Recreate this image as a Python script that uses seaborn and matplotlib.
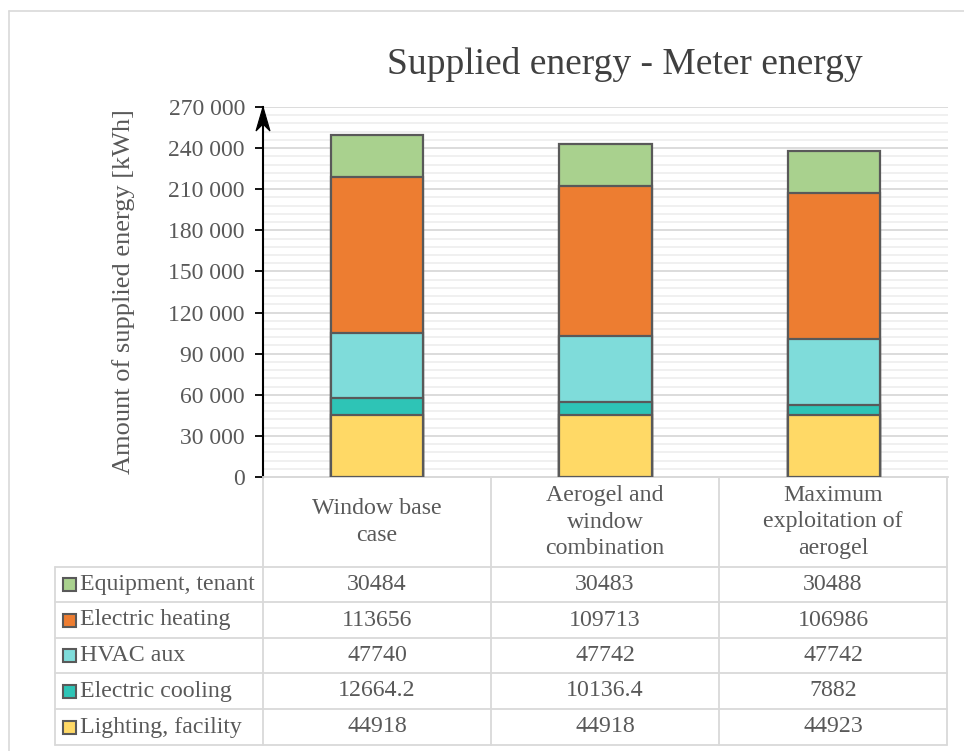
import matplotlib
matplotlib.use("Agg")
import matplotlib.pyplot as plt
import seaborn as sns
import numpy as np
from matplotlib.ticker import MultipleLocator, FuncFormatter
from matplotlib.patches import Polygon

# ---- data ----
categories = ["Window base case", "Aerogel and window combination", "Maximum exploitation of aerogel"]
header_labels = ["Window base\ncase", "Aerogel and\nwindow\ncombination", "Maximum\nexploitation of\naerogel"]
lighting = [44918, 44918, 44923]
cooling = [12664.2, 10136.4, 7882]
hvac = [47740, 47742, 47742]
heating = [113656, 109713, 106986]
equipment = [30484, 30483, 30488]
cooling_text = ["12664.2", "10136.4", "7882"]

series_names = ["Lighting, facility", "Electric cooling", "HVAC aux", "Electric heating", "Equipment, tenant"]
series_vals = [lighting, cooling, hvac, heating, equipment]
colors = ["#FFD966", "#2EC4B6", "#7FDCDA", "#ED7D31", "#A9D18E"]

sns.set_theme(style="white")
plt.rcParams["font.family"] = ["Liberation Serif", "DejaVu Serif"]

W, H = 964, 751
fig = plt.figure(figsize=(W / 100, H / 100), dpi=100)

# main plot axes (pixel geometry)
L, R, T, B = 263, 948, 107, 477
ax = fig.add_axes([L / W, 1 - B / H, (R - L) / W, (B - T) / H])

cum = np.cumsum(np.array(series_vals, dtype=float), axis=0)
edge = "#595959"
for i in range(len(series_names) - 1, -1, -1):
    sns.barplot(x=categories, y=cum[i], color=colors[i], width=0.405, saturation=1,
                edgecolor=edge, linewidth=1.6, ax=ax, order=categories, zorder=3)

ax.set_xlim(-0.5, 2.5)
ax.set_ylim(0, 270000)
ax.yaxis.set_major_locator(MultipleLocator(30000))
ax.yaxis.set_minor_locator(MultipleLocator(6000))
ax.yaxis.set_major_formatter(FuncFormatter(lambda v, p: f"{int(v):,}".replace(",", " ")))
ax.grid(axis="y", which="major", color="#d9d9d9", linewidth=1.3, zorder=0)
ax.grid(axis="y", which="minor", color="#efefef", linewidth=1.3, zorder=0)
ax.set_axisbelow(True)
ax.set_xticks([])
ax.set_xlabel("")
ax.tick_params(axis="y", which="major", direction="out", length=6, width=1.3, color="black",
               labelsize=17, labelcolor="#595959", pad=7, left=True)
ax.tick_params(axis="y", which="minor", length=0)
for s in ["top", "right"]:
    ax.spines[s].set_visible(False)
ax.spines["bottom"].set_color("#d9d9d9")
ax.spines["bottom"].set_linewidth(1.3)
ax.spines["left"].set_color("black")
ax.spines["left"].set_linewidth(1.5)
ax.set_ylabel("Amount of supplied energy [kWh]", fontsize=19, color="#595959", labelpad=24)

fig.text(625 / W, 1 - 65 / H, "Supplied energy - Meter energy", ha="center", va="center",
         fontsize=27, color="#404040")

# ---- data table (overlay axes in pixel coordinates) ----
tab = fig.add_axes([0, 0, 1, 1], zorder=-1)
tab.set_xlim(0, W)
tab.set_ylim(H, 0)
tab.axis("off")

# arrow head on the value axis (stealth style)
over = fig.add_axes([0, 0, 1, 1], zorder=5)
over.set_xlim(0, W)
over.set_ylim(H, 0)
over.axis("off")
over.add_patch(Polygon([(263, 107), (256, 131), (263, 124), (270, 131)], closed=True,
                       facecolor="black", edgecolor="black", lw=0.8))

gc = "#d9d9d9"
col_x = [263, 491, 719, 947]
row_y = [567, 602, 638, 673, 709, 745]
lw = 1.3
# outer frame of the chart
tab.plot([9, 980], [11, 11], color=gc, lw=1.2)
tab.plot([9, 9], [11, 760], color=gc, lw=1.2)
# header cells
tab.plot([263, 947], [477, 477], color=gc, lw=lw)
for x in col_x:
    tab.plot([x, x], [477, 745], color=gc, lw=lw)
tab.plot([55, 55], [567, 745], color=gc, lw=lw)
for y in row_y:
    tab.plot([55, 947], [y, y], color=gc, lw=lw)

tc = "#595959"
fs = 17.2
for j, lab in enumerate(header_labels):
    cx = (col_x[j] + col_x[j + 1]) / 2
    tab.text(cx, 522, lab, ha="center", va="center", fontsize=fs, color=tc, linespacing=1.32)

order_rows = list(range(len(series_names) - 1, -1, -1))  # top row = Equipment
for r, si in enumerate(order_rows):
    yc = (row_y[r] + row_y[r + 1]) / 2
    tab.add_patch(plt.Rectangle((63, yc - 6.5), 13, 13, facecolor=colors[si], edgecolor="#595959", lw=1.5))
    tab.text(80, yc, series_names[si], ha="left", va="center", fontsize=fs, color=tc)
    for j in range(3):
        cx = (col_x[j] + col_x[j + 1]) / 2
        if si == 1:
            txt = cooling_text[j]
        else:
            txt = str(int(series_vals[si][j]))
        tab.text(cx, yc, txt, ha="center", va="center", fontsize=fs, color=tc)

fig.savefig("out.png", dpi=100, facecolor="white")
